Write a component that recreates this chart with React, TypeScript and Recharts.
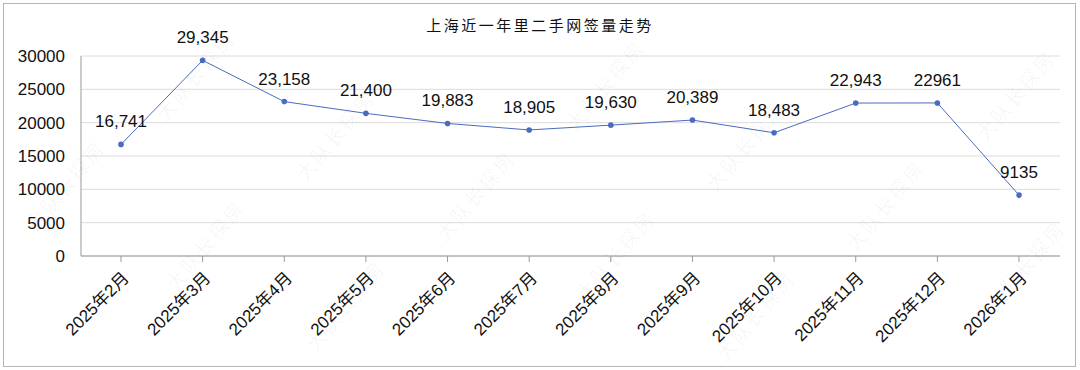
import { LineChart, Line, XAxis, YAxis, CartesianGrid, LabelList } from 'recharts';

const months = ['2025年2月', '2025年3月', '2025年4月', '2025年5月', '2025年6月', '2025年7月', '2025年8月', '2025年9月', '2025年10月', '2025年11月', '2025年12月', '2026年1月'];
const signed = [16741, 29345, 23158, 21400, 19883, 18905, 19630, 20389, 18483, 22943, 22961, 9135];
const labels = ['16,741', '29,345', '23,158', '21,400', '19,883', '18,905', '19,630', '20,389', '18,483', '22,943', '22961', '9135'];
const yTicks = [0, 5000, 10000, 15000, 20000, 25000, 30000];
const watermark = '大队长探房';

const data = months.map((m, i) => ({ month: m, value: signed[i], label: labels[i] }));

const font = '"Liberation Sans", Arial, "Noto Sans CJK SC", sans-serif';

// faint diagonal watermark grid, only the ones that sit fully inside the frame
const marks: { x: number; y: number }[] = [];
for (let i = -6; i <= 8; i++) {
  for (let j = -4; j <= 4; j++) {
    const x = 477 + i * 140 + j * 130;
    const y = 197 + i * 60 - j * 110;
    if (x > 45 && x < 1035 && y > 45 && y < 325) marks.push({ x, y });
  }
}

function MonthTick({ x, y, payload }: any) {
  const tx = x + 9;
  const ty = y + 15;
  return (
    <text x={tx} y={ty} transform={`rotate(-45 ${tx} ${ty})`} textAnchor="end" fontSize={17} fill="#111" fontFamily={font}>
      {payload.value}
    </text>
  );
}

export default function App() {
  return (
    <div style={{ position: 'absolute', left: 0, top: 0, width: 1080, height: 370, background: '#fff', fontFamily: font, overflow: 'hidden' }}>
      <div style={{ position: 'absolute', left: 3, top: 3, width: 1071, height: 362, border: '1px solid #b5b5b5' }} />
      <div style={{ position: 'absolute', left: 0, top: 14, width: 1080, textAlign: 'center', fontSize: 15, letterSpacing: 2.5, color: '#111', fontFamily: '"Noto Sans CJK SC", sans-serif' }}>
        上海近一年里二手网签量走势
      </div>
      <div style={{ position: 'absolute', left: 0, top: 0 }}>
        <LineChart width={1080} height={370} data={data} margin={{ top: 56, right: 20, bottom: 0, left: 0 }}>
          <CartesianGrid vertical={false} stroke="#dcdcdc" />
          <XAxis dataKey="month" height={114} stroke="#999" tickSize={6} interval={0} padding={{ left: 40, right: 41 }} tick={<MonthTick />} />
          <YAxis width={81} domain={[0, 30000]} ticks={yTicks} stroke="#999" tickLine={false} tickMargin={10}
            tick={{ fontSize: 17, fill: '#111', fontFamily: font }} />
          <Line dataKey="value" stroke="#4a6bbf" strokeWidth={1} isAnimationActive={false}
            dot={{ r: 2.8, fill: '#4a6bbf', stroke: '#4a6bbf', strokeWidth: 0 }}>
            <LabelList dataKey="label" position="top" offset={17} fontSize={17} fill="#111" fontFamily={font} />
          </Line>
        </LineChart>
      </div>
      <svg width={1080} height={370} style={{ position: 'absolute', left: 0, top: 0, pointerEvents: 'none' }}>
        {marks.map((m, i) => (
          <text key={i} x={m.x} y={m.y} transform={`rotate(-50 ${m.x} ${m.y})`} textAnchor="middle" dominantBaseline="middle"
            fontSize={20} fill="#000" fillOpacity={0.045} fontFamily='"Noto Sans CJK SC", sans-serif' letterSpacing={2}>
            {watermark}
          </text>
        ))}
      </svg>
    </div>
  );
}
